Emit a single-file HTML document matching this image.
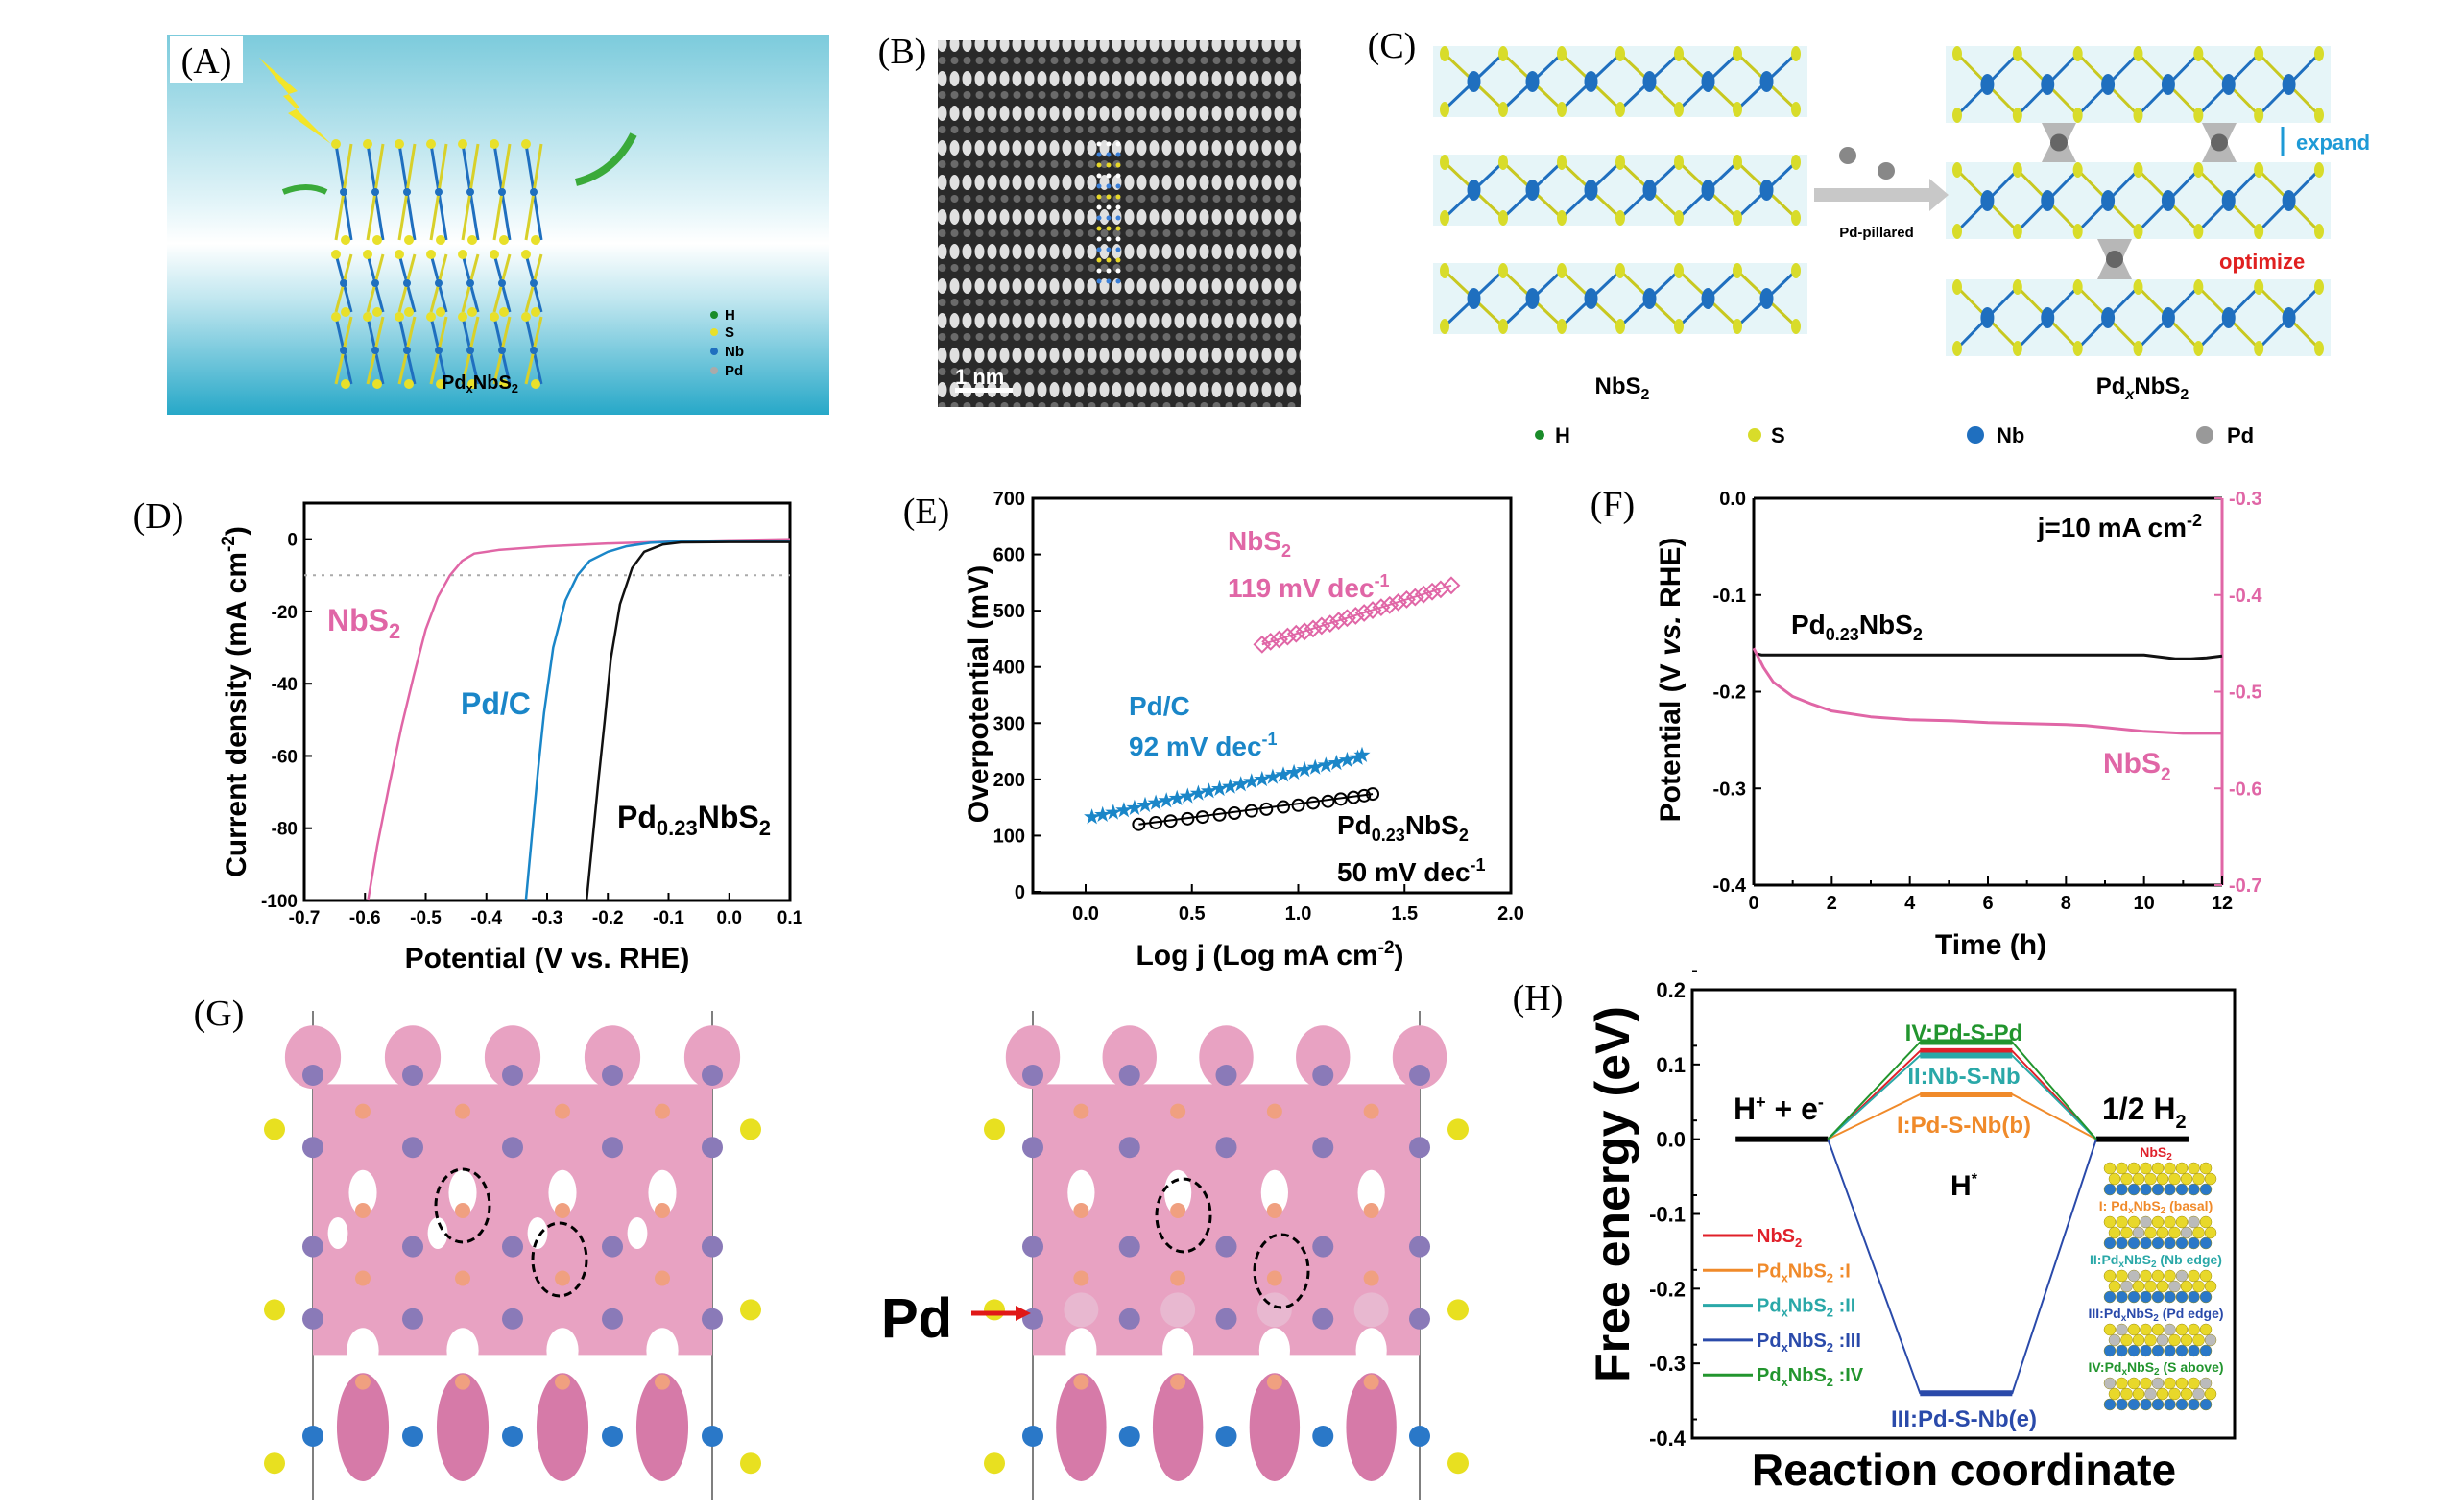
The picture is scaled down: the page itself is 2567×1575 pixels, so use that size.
<!DOCTYPE html>
<html><head><meta charset="utf-8"><style>
html,body{margin:0;padding:0;background:#fff;}
svg{display:block;}
.t{font-family:"Liberation Sans",sans-serif;}
.n{font-family:"Liberation Sans Narrow","Liberation Sans",sans-serif;font-weight:bold;}
.s{font-family:"Liberation Serif",serif;}
</style></head><body>
<svg id="fig" width="2567" height="1575" viewBox="0 0 2567 1575" xmlns="http://www.w3.org/2000/svg">
<defs>
<linearGradient id="gA" x1="0" y1="0" x2="0" y2="1">
<stop offset="0" stop-color="#7ccbdc"/><stop offset="0.45" stop-color="#e4f5f9"/><stop offset="0.55" stop-color="#ffffff"/><stop offset="0.7" stop-color="#bfe6ef"/><stop offset="1" stop-color="#27a8c8"/></linearGradient>
<pattern id="pB" width="13" height="36" patternUnits="userSpaceOnUse">
<rect width="13" height="36" fill="#2a2a2a"/>
<ellipse cx="6.5" cy="10" rx="5" ry="8" fill="#e0e0e0"/>
<ellipse cx="6.5" cy="27" rx="4" ry="4" fill="#6a6a6a"/></pattern>
</defs>
<g id="panelA">
<rect x="174" y="36" width="690" height="396" fill="url(#gA)"/>
<rect x="177" y="38" width="76" height="48" fill="#fff"/>
<text x="215" y="76" class="s" font-size="38" text-anchor="middle">(A)</text>
<polygon points="270,60 310,95 295,100 345,150 300,118 312,112" fill="#f3e52a"/>
<g id="aAtoms"></g>
<text x="500" y="405" class="n" font-size="20" text-anchor="middle">Pd<tspan font-size="13" dy="4">x</tspan><tspan dy="-4">NbS</tspan><tspan font-size="13" dy="4">2</tspan></text>
<g class="n" font-size="15"><circle cx="744" cy="328" r="4" fill="#1a8c2a"/><text x="755" y="333">H</text>
<circle cx="744" cy="346" r="4" fill="#e8e02a"/><text x="755" y="351">S</text>
<circle cx="744" cy="366" r="4" fill="#1f6fbf"/><text x="755" y="371">Nb</text>
<circle cx="744" cy="386" r="4" fill="#aaa"/><text x="755" y="391">Pd</text></g>
</g>
<g id="panelB">
<text x="940" y="66" class="s" font-size="38" text-anchor="middle">(B)</text>
<rect x="977" y="42" width="378" height="382" fill="url(#pB)"/>
<g id="bDots"></g>
<rect x="995" y="404" width="60" height="5" fill="#fff"/>
<text x="995" y="400" class="t" font-weight="bold" font-size="22" fill="#fff">1 nm</text>
</g>
<g id="panelC">
<text x="1450" y="60" class="s" font-size="38" text-anchor="middle">(C)</text>
<g id="cLayers"></g>
<polygon points="1890,196 2010,196 2010,186 2030,203 2010,220 2010,210 1890,210" fill="#c8c8c8"/>
<circle cx="1925" cy="162" r="9" fill="#888"/><circle cx="1965" cy="178" r="9" fill="#888"/>
<text x="1955" y="247" class="n" font-size="15" text-anchor="middle">Pd-pillared</text>
<text x="2392" y="156" class="t" font-weight="bold" font-size="22" fill="#1e9ad6">expand</text>
<line x1="2378" y1="132" x2="2378" y2="162" stroke="#1e9ad6" stroke-width="3"/>
<text x="2312" y="280" class="t" font-weight="bold" font-size="22" fill="#e02020">optimize</text>
<text x="1690" y="410" class="t" font-weight="bold" font-size="24" text-anchor="middle">NbS<tspan font-size="16" dy="6">2</tspan></text>
<text x="2232" y="410" class="t" font-weight="bold" font-size="24" text-anchor="middle">Pd<tspan font-size="16" dy="6" font-style="italic">x</tspan><tspan dy="-6">NbS</tspan><tspan font-size="16" dy="6">2</tspan></text>
<g class="t" font-weight="bold" font-size="22">
<circle cx="1604" cy="453" r="5" fill="#1a8c2a"/><text x="1620" y="461">H</text>
<circle cx="1828" cy="453" r="7" fill="#d8dc2a"/><text x="1845" y="461">S</text>
<circle cx="2058" cy="453" r="9" fill="#1f6fbf"/><text x="2080" y="461">Nb</text>
<circle cx="2297" cy="453" r="9" fill="#999"/><text x="2320" y="461">Pd</text></g>
</g>

<g id="panelD">
<text x="165" y="550" class="s" font-size="38" text-anchor="middle">(D)</text>
<g id="dPlot"></g>
</g>
<g id="panelE">
<text x="965" y="545" class="s" font-size="38" text-anchor="middle">(E)</text>
<g id="ePlot"></g>
</g>
<g id="panelF">
<text x="1680" y="538" class="s" font-size="38" text-anchor="middle">(F)</text>
<g id="fPlot"></g>
</g>
<g id="panelG">
<text x="228" y="1068" class="s" font-size="38" text-anchor="middle">(G)</text>
<g id="gImg"></g>
<text x="918" y="1393" class="t" font-weight="bold" font-size="58">Pd</text>
<line x1="1012" y1="1368" x2="1062" y2="1368" stroke="#e01818" stroke-width="5"/>
<polygon points="1058,1360 1074,1368 1058,1376" fill="#e01818"/>
</g>
<g id="panelH">
<text x="1602" y="1052" class="s" font-size="38" text-anchor="middle">(H)</text>
<g id="hPlot"></g>
</g>
</svg>
<script>
// ---- Panel D data ----
const dNbS2E = [0.1,0.0,-0.1,-0.2,-0.3,-0.38,-0.42,-0.44,-0.46,-0.48,-0.5,-0.52,-0.54,-0.56,-0.58,-0.595];
const dNbS2J = [0,-0.3,-0.7,-1.2,-2,-3,-4,-6,-10,-16,-25,-38,-52,-68,-85,-100];
const dPdCE = [0.1,0.0,-0.08,-0.13,-0.17,-0.2,-0.23,-0.25,-0.27,-0.29,-0.305,-0.315,-0.325,-0.335];
const dPdCJ = [-0.5,-0.5,-0.6,-1,-2,-3.5,-6,-10,-17,-30,-48,-64,-82,-100];
const dPdNE = [0.1,0.0,-0.08,-0.11,-0.14,-0.16,-0.18,-0.195,-0.205,-0.215,-0.225,-0.235];
const dPdNJ = [-0.8,-0.8,-0.9,-1.5,-3.5,-8,-18,-33,-50,-66,-83,-100];
const dXTicks = [-0.7,-0.6,-0.5,-0.4,-0.3,-0.2,-0.1,0.0,0.1];
const dYTicks = [0,-20,-40,-60,-80,-100];
// ---- Panel E data ----
const eCircX = [0.25,0.33,0.40,0.48,0.55,0.63,0.70,0.78,0.85,0.93,1.00,1.07,1.14,1.20,1.26,1.31,1.35];
const eCircY = [120,123,126,130,133,137,140,144,147,151,154,158,161,165,168,171,174];
const eStarX = [0.03,0.08,0.13,0.18,0.23,0.28,0.33,0.38,0.43,0.48,0.53,0.58,0.63,0.68,0.73,0.78,0.83,0.88,0.93,0.98,1.03,1.08,1.13,1.18,1.23,1.28,1.30];
const eStarY = [133,137,141,145,149,154,158,162,166,170,175,179,183,187,191,196,200,204,208,212,217,221,225,229,234,238,243];
const eDiaX = [0.83,0.87,0.91,0.95,0.99,1.03,1.07,1.11,1.15,1.19,1.23,1.27,1.31,1.35,1.39,1.43,1.47,1.51,1.55,1.59,1.63,1.67,1.72];
const eDiaY = [440,445,449,454,459,463,468,473,477,482,487,491,496,501,506,510,515,520,524,529,534,538,545];
const eXTicks = [0.0,0.5,1.0,1.5,2.0];
const eYTicks = [0,100,200,300,400,500,600,700];
// ---- Panel F data ----
const fBlackT = [0,0.2,1,2,4,6,8,9,10,10.4,10.8,11.2,11.6,12];
const fBlackV = [-0.16,-0.162,-0.162,-0.162,-0.162,-0.162,-0.162,-0.162,-0.162,-0.164,-0.166,-0.166,-0.165,-0.163];
const fPinkT = [0,0.25,0.5,1,1.5,2,3,4,5,6,7,8,8.5,9,10,11,12];
const fPinkV = [-0.455,-0.475,-0.49,-0.505,-0.513,-0.52,-0.526,-0.529,-0.53,-0.532,-0.533,-0.534,-0.535,-0.537,-0.541,-0.543,-0.543];
const fXTicks = [0,2,4,6,8,10,12];
const fYTicks = [0.0,-0.1,-0.2,-0.3,-0.4];
const fY2Ticks = [-0.3,-0.4,-0.5,-0.6,-0.7];
// ---- Panel H data ----
const hSeries = ["NbS2","PdxNbS2:I","PdxNbS2:II","PdxNbS2:III","PdxNbS2:IV"];
const hHstar = [0.118,0.06,0.112,-0.34,0.13];
const hYTicks = [0.2,0.1,0.0,-0.1,-0.2,-0.3,-0.4];

const NS="http://www.w3.org/2000/svg";
function mk(parent,tag,attrs,text){const e=document.createElementNS(NS,tag);for(const k in attrs)e.setAttribute(k,attrs[k]);if(text!==undefined)e.textContent=text;parent.appendChild(e);return e;}
function lin(d0,d1,r0,r1){return v=>r0+(v-d0)*(r1-r0)/(d1-d0);}
function fmt1(v){return (v===0?"0.0":v.toFixed(1)).replace("-0.0","0.0");}

// ===== Panel D =====
(function(){
const g=document.getElementById('dPlot');
const L=317,R=823,T=524,B=938;
const x=lin(-0.7,0.1,L,R), y=lin(10,-100,T,B);
const box=mk(g,'rect',{x:L,y:T,width:R-L,height:B-T,fill:'none',stroke:'#000','stroke-width':3});

mk(g,'line',{x1:L,y1:y(-10),x2:R,y2:y(-10),stroke:'#aaa','stroke-width':2,'stroke-dasharray':'3,6'});
dXTicks.forEach(v=>{mk(g,'line',{x1:x(v),y1:B,x2:x(v),y2:B-8,stroke:'#000','stroke-width':2});
 const t=mk(g,'text',{x:x(v),y:962,'text-anchor':'middle','font-size':19,class:'n'},v===0?'0.0':v.toFixed(1));
 });
dYTicks.forEach(v=>{mk(g,'line',{x1:L,y1:y(v),x2:L+8,y2:y(v),stroke:'#000','stroke-width':2});
 const t=mk(g,'text',{x:310,y:y(v)+7,'text-anchor':'end','font-size':19,class:'n'},String(v));
 });
function line(E,J,c,name){const p=mk(g,'polyline',{points:E.map((e,i)=>x(e)+','+y(J[i])).join(' '),fill:'none',stroke:c,'stroke-width':2.5,'stroke-linejoin':'round'});
 }
line(dNbS2E,dNbS2J,'#e066a6','d-line-nbs2');line(dPdCE,dPdCJ,'#1a86c8','d-line-pdc');line(dPdNE,dPdNJ,'#111','d-line-pd023nbs2');
let t=mk(g,'text',{x:341,y:657,'font-size':32,fill:'#e066a6',class:'n'});t.innerHTML='NbS<tspan font-size="22" dy="8">2</tspan>';

t=mk(g,'text',{x:480,y:744,'font-size':32,fill:'#1a86c8',class:'n'},'Pd/C');

t=mk(g,'text',{x:643,y:862,'font-size':32,fill:'#000',class:'n'});t.innerHTML='Pd<tspan font-size="22" dy="8">0.23</tspan><tspan dy="-8">NbS</tspan><tspan font-size="22" dy="8">2</tspan>';

t=mk(g,'text',{x:570,y:1008,'text-anchor':'middle','font-size':30,class:'n'},'Potential (V vs. RHE)');

t=mk(g,'text',{x:0,y:0,transform:'translate(256,731) rotate(-90)','text-anchor':'middle','font-size':30,'font-weight':'bold',class:'t'});
t.innerHTML='Current density (mA cm<tspan font-size="19" dy="-12">-2</tspan><tspan dy="12">)</tspan>';

})();

// ===== Panel E =====
(function(){
const g=document.getElementById('ePlot');
const L=1076,R=1574,T=519,B=930;
const x=lin(0,2,1131,1574), y=lin(0,700,929,519);
const box=mk(g,'rect',{x:L,y:T,width:R-L,height:B-T,fill:'none',stroke:'#000','stroke-width':3});

eXTicks.forEach(v=>{mk(g,'line',{x1:x(v),y1:B,x2:x(v),y2:B-9,stroke:'#000','stroke-width':2});
 const t=mk(g,'text',{x:x(v),y:958,'text-anchor':'middle','font-size':20,class:'n'},v.toFixed(1));
 });
eYTicks.forEach(v=>{mk(g,'line',{x1:L,y1:y(v),x2:L+9,y2:y(v),stroke:'#000','stroke-width':2});
 const t=mk(g,'text',{x:1068,y:y(v)+7,'text-anchor':'end','font-size':20,class:'n'},String(v));
 });
mk(g,'line',{x1:x(eCircX[0]),y1:y(eCircY[0]),x2:x(eCircX[eCircX.length-1]),y2:y(eCircY[eCircY.length-1]),stroke:'#000','stroke-width':2});
mk(g,'line',{x1:x(eStarX[0]),y1:y(eStarY[0]),x2:x(eStarX[eStarX.length-1]),y2:y(eStarY[eStarY.length-1]),stroke:'#1a86c8','stroke-width':2});
mk(g,'line',{x1:x(eDiaX[0]),y1:y(eDiaY[0]),x2:x(eDiaX[eDiaX.length-1]),y2:y(eDiaY[eDiaY.length-1]),stroke:'#e066a6','stroke-width':2});
eCircX.forEach((v,i)=>{const c=mk(g,'circle',{cx:x(v),cy:y(eCircY[i]),r:6,fill:'none',stroke:'#000','stroke-width':2});
 });
eStarX.forEach((v,i)=>{const cx=x(v),cy=y(eStarY[i]);let pts=[];for(let k=0;k<10;k++){const r=k%2?3.5:9,a=-Math.PI/2+k*Math.PI/5;pts.push((cx+r*Math.cos(a)).toFixed(1)+','+(cy+r*Math.sin(a)).toFixed(1));}
 const p=mk(g,'polygon',{points:pts.join(' '),fill:'#1a86c8'});
 });
eDiaX.forEach((v,i)=>{const cx=x(v),cy=y(eDiaY[i]);
 const p=mk(g,'polygon',{points:`${cx-8},${cy} ${cx},${cy-8} ${cx+8},${cy} ${cx},${cy+8}`,fill:'none',stroke:'#e066a6','stroke-width':2});
 });
function lab(xx,yy,html,c,name){const t=mk(g,'text',{x:xx,y:yy,'font-size':28,fill:c,class:'n'});t.innerHTML=html;}
lab(1279,573,'NbS<tspan font-size="18" dy="7">2</tspan>','#e066a6','e-label-nbs2');
lab(1279,622,'119 mV dec<tspan font-size="18" dy="-11">-1</tspan>','#e066a6','e-label-nbs2-slope');
lab(1176,745,'Pd/C','#1a86c8','e-label-pdc');
lab(1176,787,'92 mV dec<tspan font-size="18" dy="-11">-1</tspan>','#1a86c8','e-label-pdc-slope');
lab(1393,869,'Pd<tspan font-size="18" dy="7">0.23</tspan><tspan dy="-7">NbS</tspan><tspan font-size="18" dy="7">2</tspan>','#000','e-label-pd023nbs2');
lab(1393,918,'50 mV dec<tspan font-size="18" dy="-11">-1</tspan>','#000','e-label-pd023-slope');
let t=mk(g,'text',{x:1323,y:1005,'text-anchor':'middle','font-size':30,class:'n'});t.innerHTML='Log j (Log mA cm<tspan font-size="19" dy="-12">-2</tspan><tspan dy="12">)</tspan>';

t=mk(g,'text',{x:0,y:0,transform:'translate(1029,723) rotate(-90)','text-anchor':'middle','font-size':30,'font-weight':'bold',class:'t'},'Overpotential (mV)');

})();

// ===== Panel F =====
(function(){
const g=document.getElementById('fPlot');
const L=1827,R=2315,T=519,B=922;
const x=lin(0,12,L,R), y=lin(0,-0.4,T,B), y2=lin(-0.3,-0.7,T,B);
mk(g,'line',{x1:L,y1:T,x2:R,y2:T,stroke:'#000','stroke-width':3});
mk(g,'line',{x1:L,y1:B,x2:R,y2:B,stroke:'#000','stroke-width':3});
const la=mk(g,'line',{x1:L,y1:T,x2:L,y2:B,stroke:'#000','stroke-width':3});

const ra=mk(g,'line',{x1:R,y1:T,x2:R,y2:B,stroke:'#e066a6','stroke-width':3});

fXTicks.forEach(v=>{mk(g,'line',{x1:x(v),y1:B,x2:x(v),y2:B-9,stroke:'#000','stroke-width':2});
 if(v<12)mk(g,'line',{x1:x(v+1),y1:B,x2:x(v+1),y2:B-5,stroke:'#000','stroke-width':2});
 const t=mk(g,'text',{x:x(v),y:947,'text-anchor':'middle','font-size':20,class:'n'},String(v));
 });
fYTicks.forEach(v=>{mk(g,'line',{x1:L,y1:y(v),x2:L+8,y2:y(v),stroke:'#000','stroke-width':2});
 const t=mk(g,'text',{x:1819,y:y(v)+7,'text-anchor':'end','font-size':20,class:'n'},fmt1(v));
 });
fY2Ticks.forEach(v=>{mk(g,'line',{x1:R,y1:y2(v),x2:R-8,y2:y2(v),stroke:'#e066a6','stroke-width':2});
 const t=mk(g,'text',{x:2322,y:y2(v)+7,'font-size':20,fill:'#e066a6',class:'n'},v.toFixed(1));
 });
let p=mk(g,'polyline',{points:fBlackT.map((t,i)=>x(t)+','+y(fBlackV[i])).join(' '),fill:'none',stroke:'#111','stroke-width':3});

p=mk(g,'polyline',{points:fPinkT.map((t,i)=>x(t)+','+y2(fPinkV[i])).join(' '),fill:'none',stroke:'#e066a6','stroke-width':3,'stroke-linejoin':'round'});

let t=mk(g,'text',{x:2294,y:559,'text-anchor':'end','font-size':28,class:'n'});t.innerHTML='j=10 mA cm<tspan font-size="18" dy="-11">-2</tspan>';

t=mk(g,'text',{x:1866,y:660,'font-size':28,class:'n'});t.innerHTML='Pd<tspan font-size="18" dy="7">0.23</tspan><tspan dy="-7">NbS</tspan><tspan font-size="18" dy="7">2</tspan>';

t=mk(g,'text',{x:2191,y:805,'font-size':30,fill:'#e066a6',class:'n'});t.innerHTML='NbS<tspan font-size="19" dy="8">2</tspan>';

t=mk(g,'text',{x:2074,y:994,'text-anchor':'middle','font-size':30,class:'n'},'Time (h)');

t=mk(g,'text',{x:0,y:0,transform:'translate(1750,708) rotate(-90)','text-anchor':'middle','font-size':30,'font-weight':'bold',class:'t'});
t.innerHTML='Potential (V <tspan font-style="italic">vs.</tspan> RHE)';

})();

// ===== Panel H =====
(function(){
const g=document.getElementById('hPlot');
const L=1763,R=2328,T=1031,B=1498;
const x=lin(0,10,L,R), y=lin(0.2,-0.4,T,B);
const colors=['#e0202a','#f08a2a','#2aa8a8','#2a4aaa','#22952e'];
const box=mk(g,'rect',{x:L,y:T,width:R-L,height:B-T,fill:'none',stroke:'#000','stroke-width':3});

hYTicks.forEach(v=>{mk(g,'line',{x1:L,y1:y(v),x2:L+8,y2:y(v),stroke:'#000','stroke-width':2});
 mk(g,'line',{x1:L,y1:y(v)-19.5,x2:L+5,y2:y(v)-19.5,stroke:'#000','stroke-width':2});
 const t=mk(g,'text',{x:1756,y:y(v)+8,'text-anchor':'end','font-size':22,class:'n'},v===0?'0.0':v.toFixed(1));
 });
const s0=[0.8,2.5], s1=[4.2,5.9], s2=[7.45,9.15];
let p=mk(g,'line',{x1:x(s0[0]),y1:y(0),x2:x(s0[1]),y2:y(0),stroke:'#000','stroke-width':6});

p=mk(g,'line',{x1:x(s2[0]),y1:y(0),x2:x(s2[1]),y2:y(0),stroke:'#000','stroke-width':6});

hHstar.forEach((v,i)=>{
 const l=mk(g,'polyline',{points:`${x(s0[1])},${y(0)} ${x(s1[0])},${y(v)} ${x(s1[1])},${y(v)} ${x(s2[0])},${y(0)}`,fill:'none',stroke:colors[i],'stroke-width':2});
 
 const b=mk(g,'line',{x1:x(s1[0]),y1:y(v),x2:x(s1[1]),y2:y(v),stroke:colors[i],'stroke-width':6});
 
});
function lab(xx,yy,html,c,fs,name,anchor){const t=mk(g,'text',{x:xx,y:yy,'font-size':fs,fill:c,class:'n','text-anchor':anchor||'start'});t.innerHTML=html;}
lab(2046,1084,'IV:Pd-S-Pd',colors[4],24,'h-label-iv','middle');
lab(2046,1129,'II:Nb-S-Nb',colors[2],24,'h-label-ii','middle');
lab(2046,1180,'I:Pd-S-Nb(b)',colors[1],24,'h-label-i','middle');
lab(2046,1245,'H<tspan font-size="16" dy="-12">*</tspan>','#000',30,'h-label-hstar','middle');
lab(2046,1486,'III:Pd-S-Nb(e)',colors[3],24,'h-label-iii','middle');
lab(1806,1166,'H<tspan font-size="18" dy="-12">+</tspan><tspan dy="12"> + e</tspan><tspan font-size="18" dy="-12">-</tspan>','#000',32,'h-label-reactant');
lab(2190,1166,'1/2 H<tspan font-size="20" dy="9">2</tspan>','#000',32,'h-label-product');
const legNames=['NbS<tspan font-size="13" dy="5">2</tspan>','Pd<tspan font-size="13" dy="5">x</tspan><tspan dy="-5">NbS</tspan><tspan font-size="13" dy="5">2</tspan><tspan dy="-5"> :I</tspan>','Pd<tspan font-size="13" dy="5">x</tspan><tspan dy="-5">NbS</tspan><tspan font-size="13" dy="5">2</tspan><tspan dy="-5"> :II</tspan>','Pd<tspan font-size="13" dy="5">x</tspan><tspan dy="-5">NbS</tspan><tspan font-size="13" dy="5">2</tspan><tspan dy="-5"> :III</tspan>','Pd<tspan font-size="13" dy="5">x</tspan><tspan dy="-5">NbS</tspan><tspan font-size="13" dy="5">2</tspan><tspan dy="-5"> :IV</tspan>'];
hSeries.forEach((s,i)=>{const yy=1287+i*36.3;
 const l=mk(g,'line',{x1:1774,y1:yy,x2:1826,y2:yy,stroke:colors[i],'stroke-width':3});
 
 lab(1830,yy+7,legNames[i],colors[i],20,'h-legend-entry');});
const thumbs=[['NbS<tspan font-size="10" dy="3">2</tspan>','#e0202a',1205],['I: Pd<tspan font-size="10" dy="3">x</tspan><tspan dy="-3">NbS</tspan><tspan font-size="10" dy="3">2</tspan><tspan dy="-3"> (basal)</tspan>','#f08a2a',1261],['II:Pd<tspan font-size="10" dy="3">x</tspan><tspan dy="-3">NbS</tspan><tspan font-size="10" dy="3">2</tspan><tspan dy="-3"> (Nb edge)</tspan>','#2aa8a8',1317],['III:Pd<tspan font-size="10" dy="3">x</tspan><tspan dy="-3">NbS</tspan><tspan font-size="10" dy="3">2</tspan><tspan dy="-3"> (Pd edge)</tspan>','#2a4aaa',1373],['IV:Pd<tspan font-size="10" dy="3">x</tspan><tspan dy="-3">NbS</tspan><tspan font-size="10" dy="3">2</tspan><tspan dy="-3"> (S above)</tspan>','#22952e',1429]];
thumbs.forEach((th,i)=>{
 const ty=th[2]+4;
 for(let r=0;r<3;r++)for(let c=0;c<9;c++){mk(g,'circle',{cx:2198+c*12.5+(r%2)*5,cy:ty+r*11+8,r:6,fill:r===2?'#2a78c8':((c+r+i)%4===0&&i>0?'#bbb':'#e8d82a'),stroke:'#9a8a10','stroke-width':0.5});}
 lab(2246,th[2],th[0],th[1],14,'h-thumb-label','middle');
});
let t=mk(g,'text',{x:2046,y:1547,'text-anchor':'middle','font-size':46,'font-weight':'bold',class:'t'},'Reaction coordinate');

t=mk(g,'text',{x:0,y:0,transform:'translate(1697,1244) rotate(-90)','text-anchor':'middle','font-size':50,'font-weight':'bold',class:'t'},'Free energy (eV)');

})();

// ===== Decorative images =====
(function(){
const g=document.getElementById('aAtoms');
[[350,590,150,250],[350,590,265,325],[350,590,330,400]].forEach((r,k)=>{
 for(let i=0;i<7;i++){const cx=r[0]+i*33;
  mk(g,'line',{x1:cx,y1:r[2],x2:cx+16,y2:r[3],stroke:'#1f6fbf','stroke-width':3});
  mk(g,'line',{x1:cx+16,y1:r[2],x2:cx,y2:r[3],stroke:'#d8d02a','stroke-width':3});
  mk(g,'circle',{cx:cx,cy:r[2],r:5,fill:'#e8e02a'});mk(g,'circle',{cx:cx+10,cy:r[3],r:5,fill:'#e8e02a'});
  mk(g,'circle',{cx:cx+8,cy:(r[2]+r[3])/2,r:4,fill:'#1f6fbf'});}
});
mk(g,'path',{d:'M600,190 Q640,180 660,140',fill:'none',stroke:'#3aaa3a','stroke-width':8});
mk(g,'path',{d:'M295,200 Q320,190 340,200',fill:'none',stroke:'#3aaa3a','stroke-width':6});
const b=document.getElementById('bDots');
for(let r=0;r<14;r++)for(let c=0;c<3;c++){mk(b,'circle',{cx:1145+c*10,cy:150+r*11,r:2.5,fill:r%3===1?'#3a7fd8':(r%3===0?'#fff':'#e8d82a')});}
const cg=document.getElementById('cLayers');
function layer(x0,w,y0,h){mk(cg,'rect',{x:x0,y:y0,width:w,height:h,fill:'#e6f5f8'});
 for(let i=0;i<7;i++){const cx=x0+12+i*(w-24)/6;
  if(i<6){mk(cg,'line',{x1:cx,y1:y0+8,x2:cx+(w-24)/12,y2:y0+h/2,stroke:'#c8c820','stroke-width':3});
   mk(cg,'line',{x1:cx+(w-24)/6,y1:y0+8,x2:cx+(w-24)/12,y2:y0+h/2,stroke:'#1f6fbf','stroke-width':3});
   mk(cg,'line',{x1:cx,y1:y0+h-8,x2:cx+(w-24)/12,y2:y0+h/2,stroke:'#1f6fbf','stroke-width':3});
   mk(cg,'line',{x1:cx+(w-24)/6,y1:y0+h-8,x2:cx+(w-24)/12,y2:y0+h/2,stroke:'#c8c820','stroke-width':3});
   mk(cg,'ellipse',{cx:cx+(w-24)/12,cy:y0+h/2,rx:7,ry:11,fill:'#1f6fbf'});}
  mk(cg,'ellipse',{cx:cx,cy:y0+8,rx:5,ry:8,fill:'#d8dc2a'});mk(cg,'ellipse',{cx:cx,cy:y0+h-8,rx:5,ry:8,fill:'#d8dc2a'});}
}
layer(1493,390,48,74);layer(1493,390,161,74);layer(1493,390,274,74);
layer(2027,401,48,80);layer(2027,401,169,80);layer(2027,401,291,80);
[[2145,128,169],[2312,128,169],[2203,249,291]].forEach(p=>{mk(cg,'polygon',{points:`${p[0]-18},${p[1]} ${p[0]+18},${p[1]} ${p[0]+8},${(p[1]+p[2])/2} ${p[0]+18},${p[2]} ${p[0]-18},${p[2]} ${p[0]-8},${(p[1]+p[2])/2}`,fill:'#999',opacity:0.7});
 mk(cg,'circle',{cx:p[0],cy:(p[1]+p[2])/2,r:9,fill:'#666'});});
const gg=document.getElementById('gImg');
function cell(L,R,top,bot,pd){
 mk(gg,'line',{x1:L,y1:top-20,x2:L,y2:bot+20,stroke:'#555','stroke-width':1.5});
 mk(gg,'line',{x1:R,y1:top-20,x2:R,y2:bot+20,stroke:'#555','stroke-width':1.5});
 const w=R-L,h=bot-top;
 mk(gg,'rect',{x:L,y:top+h*0.12,width:w,height:h*0.6,fill:'#e8a2c2'});
 for(let i=0;i<5;i++){const cx=L+w*(i/4);
  mk(gg,'ellipse',{cx:cx,cy:top+h*0.06,rx:w*0.07,ry:h*0.07,fill:'#e8a2c2'});
  mk(gg,'ellipse',{cx:cx+w/8,cy:top+h*0.36,rx:w*0.035,ry:h*0.05,fill:'#fff'});
  mk(gg,'ellipse',{cx:cx+w/8,cy:top+h*0.71,rx:w*0.04,ry:h*0.05,fill:'#fff'});
  if(!pd&&i<4)mk(gg,'ellipse',{cx:cx+w/16,cy:top+h*0.45,rx:w*0.025,ry:h*0.035,fill:'#fff'});
  if(i<4)mk(gg,'ellipse',{cx:cx+w/8,cy:top+h*0.88,rx:w*0.065,ry:h*0.12,fill:'#d67aa8'});
  [0.1,0.26,0.48,0.64,0.9].forEach(f=>mk(gg,'circle',{cx:cx,cy:top+h*f,r:11,fill:f==0.9?'#2a78c8':'#8a7ab8'}));
  if(i<4)[0.18,0.4,0.55,0.78].forEach(f=>mk(gg,'circle',{cx:cx+w/8,cy:top+h*f,r:8,fill:'#f0a080'}));}
 [[0.22],[0.62],[0.96]].forEach(f=>{mk(gg,'circle',{cx:L-40,cy:top+h*f[0],r:11,fill:'#e8e020'});mk(gg,'circle',{cx:R+40,cy:top+h*f[0],r:11,fill:'#e8e020'});});
 if(pd)for(let i=0;i<4;i++)mk(gg,'circle',{cx:L+w*(i/4)+w/8,cy:top+h*0.62,r:18,fill:'#e8b8d0'});
}
cell(326,742,1073,1543,false);cell(1076,1479,1073,1543,true);
[[482,1256],[583,1312],[1233,1266],[1335,1324]].forEach(c=>mk(gg,'ellipse',{cx:c[0],cy:c[1],rx:28,ry:38,fill:'none',stroke:'#000','stroke-width':3,'stroke-dasharray':'8,5'}));
})();
</script>
</body></html>
